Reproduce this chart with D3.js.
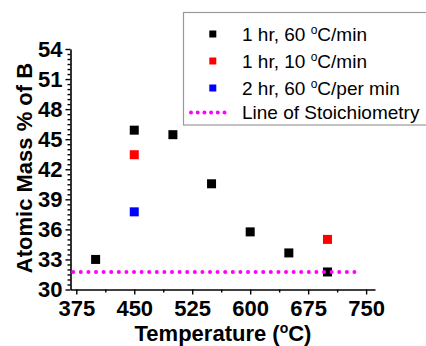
<!DOCTYPE html>
<html><head><meta charset="utf-8">
<script src="https://cdn.jsdelivr.net/npm/d3@7/dist/d3.min.js"></script>
<style>body{margin:0;background:#fff}svg{display:block}text{font-family:"Liberation Sans",Arial,sans-serif}</style>
</head><body>
<svg id="chart" width="426" height="346"></svg>
<script>
const series1 = [[400,33.0],[450,45.9],[500,45.45],[550,40.55],[600,35.75],[650,33.65],[700,31.75]];
const series2 = [[450,43.45],[700,35.0]];
const series3 = [[450,37.75]];
const stoichY = 31.75;
const stoichX = [371, 742];
const xTicks = [375,450,525,600,675,750];
const yTicks = [30,33,36,39,42,45,48,51,54];
const legendLabels = ["1 hr, 60 °C/min","1 hr, 10 °C/min","2 hr, 60 °C/per min","Line of Stoichiometry"];
const colors = ["#000000","#ff0000","#0000ff","#ff00ff"];

const svg = d3.select("#chart");
const x = d3.scaleLinear().domain([367.5,761.5]).range([70.5,375]);
const y = d3.scaleLinear().domain([30,54]).range([289.5,49]);

const xMinor = d3.range(412.5, 750, 75);
const yMinor = d3.range(30, 54.01, 0.5).filter(v => Math.abs(v/3 - Math.round(v/3)) > 1e-6);

function styleAxis(g){
  g.selectAll("path").attr("stroke","#000").attr("stroke-width",1.6);
  g.selectAll("line").attr("stroke","#000").attr("stroke-width",1.4);
}
// x axis
const gx = svg.append("g").attr("transform","translate(0,289.5)");
gx.call(d3.axisBottom(x).tickValues(xTicks).tickSize(5).tickSizeOuter(0).tickPadding(6))
  .call(styleAxis);
gx.selectAll("text").attr("font-size",22).attr("font-weight","bold").attr("fill","#000")
  .style("font-family","'Liberation Sans',Arial,sans-serif");
svg.append("g").attr("transform","translate(0,289.5)")
  .call(d3.axisBottom(x).tickValues(xMinor).tickSize(3).tickFormat(""))
  .call(g=>g.select("path").remove()).call(styleAxis);
// y axis
const gy = svg.append("g").attr("transform","translate(70.5,0)");
gy.call(d3.axisLeft(y).tickValues(yTicks).tickSize(5).tickSizeOuter(0).tickPadding(3))
  .call(styleAxis);
gy.selectAll("text").attr("font-size",22).attr("font-weight","bold").attr("fill","#000")
  .style("font-family","'Liberation Sans',Arial,sans-serif");
svg.append("g").attr("transform","translate(70.5,0)")
  .call(d3.axisLeft(y).tickValues(yMinor).tickSize(3).tickFormat(""))
  .call(g=>g.select("path").remove()).call(styleAxis);

// axis titles
const xt = svg.append("text").attr("x",223).attr("y",341).attr("text-anchor","middle")
  .attr("font-size",22).attr("font-weight","bold");
xt.append("tspan").text("Temperature (");
xt.append("tspan").attr("font-size",14).attr("dy",-8).text("o");
xt.append("tspan").attr("dy",8).text("C)");
svg.append("text").attr("transform","translate(31.5,168) rotate(-90)").attr("text-anchor","middle")
  .attr("font-size",22).attr("font-weight","bold").text("Atomic Mass % of B");

// points
const sq = 9;
[series1,series2,series3].forEach((s,i)=>{
  svg.append("g").selectAll("rect").data(s).join("rect")
    .attr("x",d=>x(d[0])-sq/2).attr("y",d=>y(d[1])-sq/2)
    .attr("width",sq).attr("height",sq).attr("fill",colors[i]);
});
// stoichiometry line
svg.append("line").attr("x1",x(stoichX[0])).attr("x2",x(stoichX[1]))
  .attr("y1",y(stoichY)).attr("y2",y(stoichY))
  .attr("stroke",colors[3]).attr("stroke-width",4).attr("stroke-linecap","round")
  .attr("stroke-dasharray","0 7.6");

// legend
const lg = svg.append("g");
lg.append("rect").attr("x",183.5).attr("y",12.5).attr("width",260).attr("height",112.5)
  .attr("fill","#fff").attr("stroke","#999").attr("stroke-width",1.2);
const rowsY = [34,61,88,112.5];
legendLabels.forEach((lab,i)=>{
  if(i<3){
    lg.append("rect").attr("x",209.3).attr("y",rowsY[i]-3.5).attr("width",7).attr("height",7).attr("fill",colors[i]);
  } else {
    lg.append("line").attr("x1",191).attr("x2",231).attr("y1",rowsY[i]).attr("y2",rowsY[i])
      .attr("stroke",colors[3]).attr("stroke-width",4).attr("stroke-linecap","round").attr("stroke-dasharray","0 6.7");
  }
  const t = lg.append("text").attr("x",242).attr("y",rowsY[i]+6.8).attr("font-size",19).attr("fill","#000");
  const m = lab.match(/^(.*?)°(.*)$/);
  if(m){
    t.append("tspan").text(m[1]);
    t.append("tspan").attr("font-size",12).attr("dy",-7).text("o");
    t.append("tspan").attr("dy",7).text(m[2]);
  } else t.text(lab);
});
</script>
</body></html>
